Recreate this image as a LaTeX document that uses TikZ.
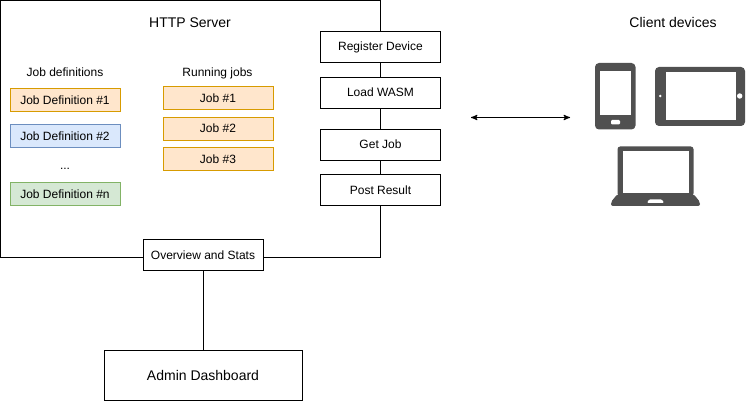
\documentclass[tikz,border=0pt]{standalone}
\usepackage{fontspec}
\setmainfont{Liberation Sans}
\usetikzlibrary{arrows,positioning}
\definecolor{orangefill}{HTML}{FFE6CC}
\definecolor{orangeline}{HTML}{D79B00}
\definecolor{bluefill}{HTML}{DAE8FC}
\definecolor{blueline}{HTML}{6C8EBF}
\definecolor{greenfill}{HTML}{D5E8D4}
\definecolor{greenline}{HTML}{82B366}
\definecolor{icongray}{HTML}{505050}
\tikzset{
	apibox/.style={draw,fill=white,line width=0.75pt,outer sep=0pt,inner sep=0pt,minimum width=90pt,minimum height=23.25pt,text height=8pt,text depth=2pt,font=\fontsize{9}{11}\selectfont},
	jobbox/.style={draw,line width=0.75pt,outer sep=0pt,inner sep=0pt,minimum width=82.5pt,minimum height=17.25pt,text height=8pt,text depth=2pt,font=\fontsize{9}{11}\selectfont},
	orangebox/.style={jobbox,fill=orangefill,draw=orangeline},
	bluebox/.style={jobbox,fill=bluefill,draw=blueline},
	greenbox/.style={jobbox,fill=greenfill,draw=greenline},
	caption/.style={text height=8pt,text depth=2pt,font=\fontsize{9}{11}\selectfont},
	bigcaption/.style={text height=9pt,text depth=2pt,font=\fontsize{10.5}{13}\selectfont},
	icon/.style={fill=icongray,even odd rule}
}
\begin{document}
\begin{tikzpicture}[x=0.75pt,y=-0.75pt,>=stealth',line width=0.75pt]
		\useasboundingbox (0,0) rectangle (746,402);
		% server frame
		\node[draw,line width=0.75pt,outer sep=0pt,inner sep=0pt,minimum width=285pt,minimum height=192.5pt,anchor=north west] (server) at (0.5,0.5) {};
		\node[bigcaption] (servertitle) at (190,23) {HTTP Server};
		\node[bigcaption] (clienttitle) at (673,23) {Client devices};

		% job definitions
		\node[caption] (defs) at (65,73) {Job definitions};
		\node[orangebox] (def1) at (65,100.5) {Job Definition \#1};
		\node[bluebox] (def2) [below=9.75pt of def1] {Job Definition \#2};
		\node[caption] (dots) at (65,166) {...};
		\node[greenbox] (defn) at (65,194.5) {Job Definition \#n};

		% running jobs
		\node[caption] (running) at (217.5,73) {Running jobs};
		\node[orangebox] (job1) at (218,98.5) {Job \#1};
		\node[orangebox] (job2) [below=5.5pt of job1] {Job \#2};
		\node[orangebox] (job3) [below=5.5pt of job2] {Job \#3};

		% endpoints
		\node[apibox] (register) at (380.5,46.8) {Register Device};
		\node[apibox] (wasm) at (380.5,93) {Load WASM};
		\node[apibox] (getjob) at (380.5,144.8) {Get Job};
		\node[apibox] (post) at (380.5,190.3) {Post Result};
		\node[apibox] (stats) at (203,255.5) {Overview and Stats};
		\node[apibox,minimum width=148.5pt,minimum height=37.5pt,text height=10pt,font=\fontsize{10.5}{13}\selectfont] (admin) at (203,375.3) {Admin Dashboard};

		\draw (stats) -- (admin);
		\coordinate (left) at (471,117.5);
		\coordinate (right) at (570,117.5);
		\draw[<->] (left) -- (right);

		% phone
		\path[icon,rounded corners=3pt] (595,63) rectangle (635.5,129.5);
		\path[fill=white] (600,71) rectangle (631,115.5);
		\path[fill=white,rounded corners=0.8pt] (611,120) rectangle (620,124.5);
		% tablet
		\path[icon,rounded corners=3pt] (655,67) rectangle (745,126);
		\path[fill=white] (665.5,72.5) rectangle (735.5,120);
		\path[fill=white] (660.3,96) circle (1.4);
		\path[fill=white] (739.7,96) circle (2.7);
		% laptop
		\path[fill=icongray,rounded corners=2pt] (617.5,196) -- (617.5,146.5) -- (693.5,146.5) -- (693.5,196) -- cycle;
		\path[fill=icongray,rounded corners=1.5pt] (617.5,194) -- (693.5,194) -- (700,202) -- (700,206) -- (611,206) -- (611,202) -- cycle;
		\path[fill=white] (622.5,151.5) rectangle (689,193.5);
		\path[fill=white,rounded corners=0.8pt] (649,199.5) -- (662,199.5) -- (664,203) -- (647,203) -- cycle;
\end{tikzpicture}
\end{document}
